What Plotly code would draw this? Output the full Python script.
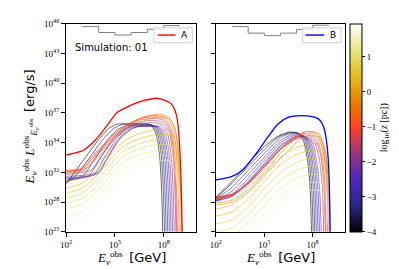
import plotly.graph_objects as go
from plotly.colors import sample_colorscale

W, H = 399, 269

# ---------------------------------------------------------------------------
# Data: log10(z / pc) per curve, knots in log10(E / GeV)
# and log10(E L / erg s^-1)
# ---------------------------------------------------------------------------
LEFT_Z = [-4.0, -3.7, -3.4, -3.1, -2.8, -2.5, -2.2,
          -1.9, -1.6, -1.3, -1.0, -0.7, -0.4, -0.1,
          0.2, 0.45, 0.7, 0.95, 1.2, 1.45, 1.7]

LEFT_LOGE = [
    [2, 3, 4, 4.6, 5.1, 6, 7.19, 7.54, 7.74, 7.87, 7.94],
    [2, 2.6, 3.4, 4.3, 4.9, 5.4, 6.3, 7.3, 7.65, 7.85, 7.98, 8.05],
    [2, 3.0, 3.7, 4.6, 5.2, 5.7, 6.6, 7.4, 7.75, 7.95, 8.08, 8.15],
    [2, 3.4, 4.0, 4.9, 5.5, 6.0, 6.8, 7.5, 7.85, 8.05, 8.18, 8.25],
    [2, 3.7, 4.3, 5.1, 5.7, 6.2, 7.0, 7.6, 7.95, 8.15, 8.28, 8.35],
    [2, 3.9, 4.5, 5.3, 5.9, 6.4, 7.1, 7.7, 8.05, 8.25, 8.38, 8.45],
    [2, 4.0, 4.6, 5.4, 6.0, 6.5, 7.2, 7.8, 8.15, 8.35, 8.48, 8.55],
    [2, 3.5, 4.2, 5.0, 5.8, 6.6, 7.3, 7.9, 8.25, 8.45, 8.58, 8.65],
    [2, 3.2, 4.0, 5.0, 5.8, 6.6, 7.3, 8.0, 8.35, 8.55, 8.68, 8.75],
    [2, 3.0, 3.9, 5.0, 5.8, 6.6, 7.4, 8.05, 8.4, 8.6, 8.73, 8.8],
    [2, 2.9, 3.8, 4.9, 5.8, 6.6, 7.4, 8.1, 8.45, 8.65, 8.78, 8.85],
    [2, 3.0, 3.9, 5.0, 5.8, 6.7, 7.5, 8.2, 8.55, 8.75, 8.88, 8.95],
    [2, 3.0, 4.0, 5.0, 5.9, 6.8, 7.6, 8.3, 8.65, 8.85, 8.98, 9.05],
    [2, 3.0, 4.0, 5.0, 5.9, 6.8, 7.6, 8.35, 8.7, 8.9, 9.03, 9.1],
    [2, 3, 4, 5, 5.6, 6.5, 7.5, 8.35, 8.7, 8.9, 9.05, 9.12],
    [2, 3, 4, 5, 5.6, 6.5, 7.5, 8.35, 8.7, 8.9, 9.05, 9.12],
    [2, 3, 4, 5, 5.6, 6.5, 7.5, 8.35, 8.7, 8.9, 9.05, 9.12],
    [2, 3, 4, 5, 5.6, 6.5, 7.5, 8.35, 8.7, 8.9, 9.05, 9.12],
    [2, 3, 4, 5, 5.6, 6.5, 7.5, 8.35, 8.7, 8.9, 9.05, 9.12],
    [2, 3, 4, 5, 5.6, 6.5, 7.5, 8.35, 8.7, 8.9, 9.05, 9.12],
    [2, 3, 4, 5, 5.6, 6.5, 7.5, 8.35, 8.7, 8.9, 9.05, 9.12],
]

LEFT_LOGL = [
    [29.85, 32.1, 34.3, 35.4, 35.85, 35.9, 35.8, 34.8, 32.8, 29.3, 25],
    [29.95, 30.7, 32.4, 34.4, 35.4, 35.8, 35.85, 35.75, 34.75, 32.75, 29.25, 25],
    [30.1, 30.6, 32.2, 34.4, 35.35, 35.7, 35.75, 35.7, 34.7, 32.7, 29.2, 25],
    [30.2, 30.65, 32.2, 34.4, 35.3, 35.65, 35.7, 35.65, 34.65, 32.65, 29.15, 25],
    [30.35, 30.75, 32.3, 34.4, 35.3, 35.6, 35.65, 35.6, 34.6, 32.6, 29.1, 25],
    [30.45, 30.85, 32.4, 34.5, 35.3, 35.6, 35.65, 35.55, 34.55, 32.55, 29.05, 25],
    [30.6, 31.0, 32.6, 34.6, 35.35, 35.65, 35.7, 35.6, 34.6, 32.6, 29.1, 25],
    [30.8, 31.2, 32.7, 34.4, 35.5, 35.9, 36.0, 35.8, 34.8, 32.8, 29.3, 25],
    [31.0, 31.3, 32.9, 34.6, 35.6, 36.1, 36.25, 36.0, 35.0, 33.0, 29.5, 25],
    [31.1, 31.35, 33.0, 34.8, 35.75, 36.3, 36.45, 36.2, 35.2, 33.2, 29.7, 25],
    [31.2, 31.4, 33.0, 34.8, 35.85, 36.45, 36.6, 36.35, 35.35, 33.35, 29.85, 25],
    [31.15, 31.35, 32.9, 34.75, 35.85, 36.55, 36.75, 36.5, 35.5, 33.5, 30.0, 25],
    [30.9, 31.15, 32.6, 34.5, 35.7, 36.6, 36.85, 36.6, 35.6, 33.6, 30.1, 25],
    [30.1, 30.5, 31.9, 33.9, 35.2, 36.2, 36.6, 36.4, 35.4, 33.4, 29.9, 25],
    [29.4, 29.9, 31.4, 33.3, 34.2, 34.9, 35.3, 35.25, 34.25, 32.25, 28.75, 25],
    [28.9, 29.4, 30.9, 32.8, 33.7, 34.4, 34.8, 34.75, 33.75, 31.75, 28.25, 25],
    [28.4, 28.9, 30.4, 32.3, 33.2, 33.9, 34.3, 34.25, 33.25, 31.25, 27.75, 25],
    [27.9, 28.4, 29.9, 31.8, 32.7, 33.4, 33.8, 33.75, 32.75, 30.75, 27.25, 25],
    [27.3, 27.8, 29.3, 31.2, 32.1, 32.8, 33.2, 33.15, 32.15, 30.15, 26.65, 25],
    [26.5, 27.0, 28.6, 30.6, 31.5, 32.3, 32.7, 32.65, 31.65, 29.65, 26.15, 25],
    [25.7, 26.2, 27.9, 30.0, 31.0, 31.8, 32.2, 32.15, 31.15, 29.15, 25.65, 25],
]

RIGHT_Z = LEFT_Z

RIGHT_LOGE = [
    [2, 3, 4, 5, 5.8, 6.5, 7.0, 7.4, 7.7, 7.85, 7.93],
    [2, 3, 4, 5, 5.9, 6.6, 7.1, 7.5, 7.8, 7.95, 8.03],
    [2, 3, 4, 5, 6.0, 6.7, 7.2, 7.6, 7.9, 8.05, 8.13],
    [2, 3, 4, 5, 6.0, 6.8, 7.3, 7.7, 8.0, 8.15, 8.23],
    [2, 3, 4, 5, 6.0, 6.8, 7.4, 7.8, 8.1, 8.25, 8.33],
    [2, 3, 4, 5, 6.0, 6.9, 7.5, 7.9, 8.2, 8.35, 8.43],
    [2, 3, 4, 5, 6.0, 6.9, 7.6, 8.0, 8.3, 8.45, 8.53],
    [2, 3, 4, 5, 6, 6.9, 7.5, 8.1, 8.4, 8.6, 8.68],
    [2, 3, 4, 5, 6, 6.9, 7.5, 8.15, 8.5, 8.7, 8.78],
    [2, 3, 4, 5, 6, 6.9, 7.5, 8.2, 8.55, 8.75, 8.83],
    [2, 3, 4, 5, 6, 7.0, 7.6, 8.3, 8.65, 8.85, 8.93],
    [2, 3, 4, 5, 6, 7.0, 7.6, 8.35, 8.7, 8.9, 8.98],
    [2, 3, 4, 5, 6, 7.0, 7.6, 8.4, 8.75, 8.95, 9.03],
    [2, 3, 4, 5, 6, 7.0, 7.7, 8.45, 8.8, 9.0, 9.08],
    [2, 3, 4, 5, 6, 7, 7.8, 8.5, 8.8, 9.0, 9.1],
    [2, 3, 4, 5, 6, 7, 7.8, 8.5, 8.8, 9.0, 9.1],
    [2, 3, 4, 5, 6, 7, 7.8, 8.5, 8.8, 9.0, 9.1],
    [2, 3, 4, 5, 6, 7, 7.8, 8.5, 8.8, 9.0, 9.1],
    [2, 3, 4, 5, 6, 7, 7.8, 8.5, 8.8, 9.0, 9.1],
    [2, 3, 4, 5, 6, 7, 7.8, 8.5, 8.8, 9.0, 9.1],
    [2, 3, 4, 5, 6, 7, 7.8, 8.5, 8.8, 9.0, 9.1],
]

RIGHT_LOGL = [
    [28.5, 30.1, 31.9, 33.6, 34.6, 35.05, 35.0, 34.3, 32.0, 29.0, 25],
    [28.4, 29.9, 31.6, 33.3, 34.6, 35.0, 34.95, 34.25, 31.95, 28.95, 25],
    [28.3, 29.5, 31.2, 32.9, 34.5, 34.95, 34.9, 34.2, 31.9, 28.9, 25],
    [28.2, 29.1, 30.8, 32.5, 34.2, 34.85, 34.8, 34.1, 31.8, 28.8, 25],
    [28.1, 28.8, 30.4, 32.2, 33.95, 34.7, 34.7, 34.0, 31.7, 28.7, 25],
    [28.1, 28.6, 30.1, 31.9, 33.7, 34.6, 34.6, 33.9, 31.6, 28.6, 25],
    [28.2, 28.6, 30.0, 31.8, 33.6, 34.55, 34.6, 33.9, 31.6, 28.6, 25],
    [28.35, 28.7, 29.9, 31.6, 33.3, 34.3, 34.5, 34.0, 32.5, 29.5, 25],
    [28.45, 28.75, 29.9, 31.6, 33.35, 34.4, 34.65, 34.2, 32.7, 29.7, 25],
    [28.5, 28.8, 29.9, 31.6, 33.4, 34.5, 34.8, 34.4, 32.9, 29.9, 25],
    [28.5, 28.8, 29.9, 31.6, 33.4, 34.6, 34.95, 34.6, 33.1, 30.1, 25],
    [28.3, 28.6, 29.7, 31.4, 33.3, 34.7, 35.1, 34.8, 33.3, 30.3, 25],
    [27.9, 28.2, 29.3, 31.0, 32.9, 34.5, 35.15, 34.9, 33.4, 30.4, 25],
    [27.7, 28.0, 29.0, 30.6, 32.4, 34.0, 34.7, 34.5, 33.0, 30.0, 25],
    [27.3, 27.7, 29.0, 30.8, 32.5, 33.5, 33.9, 33.8, 32.6, 29.8, 25],
    [26.6, 27.0, 28.3, 30.1, 31.8, 32.8, 33.2, 33.1, 31.9, 29.1, 25],
    [25.8, 26.2, 27.5, 29.3, 31.0, 32.0, 32.4, 32.3, 31.1, 28.3, 25],
    [25.0, 25.4, 26.7, 28.5, 30.2, 31.2, 31.6, 31.5, 30.3, 27.5, 25],
    [24.2, 24.6, 25.9, 27.7, 29.4, 30.4, 30.8, 30.7, 29.5, 26.7, 25],
    [23.4, 23.8, 25.1, 26.9, 28.6, 29.6, 30.0, 29.9, 28.7, 25.9, 25],
    [22.6, 23.0, 24.3, 26.1, 27.8, 28.8, 29.2, 29.1, 27.9, 25.1, 24.5],
]

A_LOGE = [2, 3.04, 3.86, 4.47, 5.18, 5.9, 6.71, 7.63, 8.3, 8.55, 8.76, 8.88, 8.98, 9.05, 9.1, 9.13]
A_LOGL = [32.75, 33.2, 34.36, 35.64, 37.1, 37.7, 38.2, 38.47, 38.1, 37.73, 36.9, 35.8, 33.6, 31.0, 28.0, 25]

B_LOGE = [2, 3, 3.7, 4.5, 5.2, 5.8, 6.4, 7.0, 7.8, 8.3, 8.55, 8.73, 8.86, 8.96, 9.03, 9.08]
B_LOGL = [30.24, 30.6, 31.3, 32.9, 34.5, 35.8, 36.5, 36.7, 36.67, 36.45, 36.05, 35.3, 34.1, 32.4, 29.9, 25]

# grey step line at the top of each panel
STEP_LOGE = [3, 4, 5, 6, 7, 8, 9]
STEP_LEFT = [45.7, 45.1, 44.85, 45.1, 45.42, 45.8, 45.8]
STEP_RIGHT = [45.7, 45.04, 44.78, 45.04, 45.42, 45.84, 45.84]

Y_TICKS = [25, 28, 31, 34, 37, 40, 43, 46]
X_TICKS = [2, 5, 8]
CB_TICKS = [-4, -3, -2, -1, 0, 1]
Z_MIN, Z_MAX = -4.0, 1.95

# matplotlib CMRmap
CMRMAP = [
    [0.0, "rgb(0,0,0)"],
    [0.125, "rgb(38,38,128)"],
    [0.25, "rgb(77,38,191)"],
    [0.375, "rgb(153,51,128)"],
    [0.5, "rgb(255,64,38)"],
    [0.625, "rgb(230,128,0)"],
    [0.75, "rgb(230,191,26)"],
    [0.875, "rgb(230,230,128)"],
    [1.0, "rgb(255,255,255)"],
]

SERIF = "Liberation Serif"
SANS = "DejaVu Sans"


def px(x):
    return x / W


def py(y):
    return 1 - y / H


def lin(vals):
    return [10.0 ** v for v in vals]


def zcolor(z):
    return sample_colorscale(CMRMAP, [(z - Z_MIN) / (Z_MAX - Z_MIN)])[0]


fig = go.Figure()

panels = [
    ("x", "y", LEFT_Z, LEFT_LOGE, LEFT_LOGL),
    ("x2", "y2", RIGHT_Z, RIGHT_LOGE, RIGHT_LOGL),
]
for xa, ya, zs, es, ls in panels:
    for z, e, l in zip(zs, es, ls):
        fig.add_trace(
            go.Scatter(
                x=lin(e),
                y=lin(l),
                mode="lines",
                line={"color": zcolor(z), "width": 0.8, "shape": "spline", "smoothing": 0.6},
                opacity=0.75,
                showlegend=False,
                xaxis=xa,
                yaxis=ya,
            )
        )

fig.add_trace(go.Scatter(
    x=lin(A_LOGE), y=lin(A_LOGL), mode="lines",
    line={"color": "#ff0000", "width": 1.3, "shape": "spline", "smoothing": 0.6},
    showlegend=False, xaxis="x", yaxis="y",
))
fig.add_trace(go.Scatter(
    x=lin(B_LOGE), y=lin(B_LOGL), mode="lines",
    line={"color": "#0000ff", "width": 1.3, "shape": "spline", "smoothing": 0.6},
    showlegend=False, xaxis="x2", yaxis="y2",
))

for xa, ya, steps in [("x", "y", STEP_LEFT), ("x2", "y2", STEP_RIGHT)]:
    fig.add_trace(go.Scatter(
        x=lin(STEP_LOGE), y=lin(steps), mode="lines",
        line={"color": "#808080", "width": 1, "shape": "hv"},
        showlegend=False, xaxis=xa, yaxis=ya,
    ))

# colorbar carrier
fig.add_trace(go.Scatter(
    x=[None], y=[None], mode="markers", showlegend=False, xaxis="x", yaxis="y",
    marker={
        "color": [Z_MIN], "colorscale": CMRMAP, "cmin": Z_MIN, "cmax": Z_MAX,
        "showscale": True,
        "colorbar": {
            "x": px(341), "xanchor": "left", "y": py(118), "yanchor": "middle",
            "len": 218 / H, "lenmode": "fraction", "thickness": 12,
            "thicknessmode": "pixels", "xpad": 0, "ypad": 0,
            "outlinewidth": 1, "outlinecolor": "black",
            "tickvals": CB_TICKS, "ticktext": [str(t).replace("-", "\u2212") for t in CB_TICKS],
            "ticks": "outside", "ticklen": 3, "tickcolor": "black",
            "tickfont": {"family": SERIF, "size": 9, "color": "black"},
            "title": {"text": "log<sub>10</sub>(<i>z</i> [pc])", "side": "right",
                      "font": {"family": SERIF, "size": 10, "color": "black"}},
        },
    },
))

axis_common = dict(
    type="log", showgrid=False, zeroline=False, showline=True, mirror=True,
    linecolor="black", linewidth=1, ticks="outside", ticklen=4, tickcolor="black",
    tickfont={"family": SERIF, "size": 9, "color": "black"},
)
x_ticks = dict(tickvals=lin(X_TICKS),
               ticktext=[f"10<sup>{t}</sup>" for t in X_TICKS], range=[2, 10])
y_ticks = dict(tickvals=lin(Y_TICKS),
               ticktext=[f"10<sup>{t}</sup>" for t in Y_TICKS], range=[25, 46])
ydom = [py(227), py(9)]

fig.update_layout(
    width=W, height=H,
    margin={"l": 0, "r": 0, "t": 0, "b": 0},
    paper_bgcolor="white", plot_bgcolor="white",
    showlegend=False,
    xaxis=dict(axis_common, **x_ticks, domain=[px(53), px(185)], anchor="y"),
    yaxis=dict(axis_common, **y_ticks, domain=ydom, anchor="x"),
    xaxis2=dict(axis_common, **x_ticks, domain=[px(205), px(336)], anchor="y2"),
    yaxis2=dict(axis_common, **y_ticks, domain=ydom, anchor="x2", showticklabels=False),
)

xtitle = ('<i>E</i><sub><i>ν</i></sub><sup>obs</sup>  '
          f'<span style="font-family:{SANS}">[GeV]</span>')
ytitle = ('<i>E</i><sub><i>ν</i></sub><sup>obs</sup> <i>L</i><sup>obs</sup>'
          '<sub><i>E</i><sub><i>ν</i></sub><sup>obs</sup></sub>  '
          f'<span style="font-family:{SANS}">[erg/s]</span>')

annotations = [
    dict(text=xtitle, x=px(119), y=py(254)),
    dict(text=xtitle, x=px(270.5), y=py(254)),
    dict(text=ytitle, x=px(17), y=py(117), textangle=-90),
]
for a in annotations:
    a.update(xref="paper", yref="paper", showarrow=False, xanchor="center",
             yanchor="middle", font={"family": SERIF, "size": 13, "color": "black"})

annotations.append(dict(text="Simulation: 01", x=px(60), y=py(33.5), xref="paper",
                        yref="paper", showarrow=False, xanchor="left", yanchor="middle",
                        font={"family": SANS, "size": 10, "color": "black"}))

shapes = []
for (x0, x1, lx0, lx1, tx, lab, col) in [
    (142, 181, 146, 164, 173, "A", "#ff0000"),
    (293, 332, 296, 315, 324, "B", "#0000ff"),
]:
    shapes.append(dict(type="rect", xref="paper", yref="paper",
                       x0=px(x0), x1=px(x1), y0=py(29), y1=py(13.5),
                       line={"color": "#d0d0d0", "width": 1}, fillcolor="rgba(255,255,255,0.8)"))
    shapes.append(dict(type="line", xref="paper", yref="paper",
                       x0=px(lx0), x1=px(lx1), y0=py(21), y1=py(21),
                       line={"color": col, "width": 1.4}))
    annotations.append(dict(text=lab, x=px(tx), y=py(21), xref="paper", yref="paper",
                            showarrow=False, xanchor="center", yanchor="middle",
                            font={"family": SANS, "size": 9, "color": "black"}))

fig.update_layout(annotations=annotations, shapes=shapes)

fig.write_html("out.html")
